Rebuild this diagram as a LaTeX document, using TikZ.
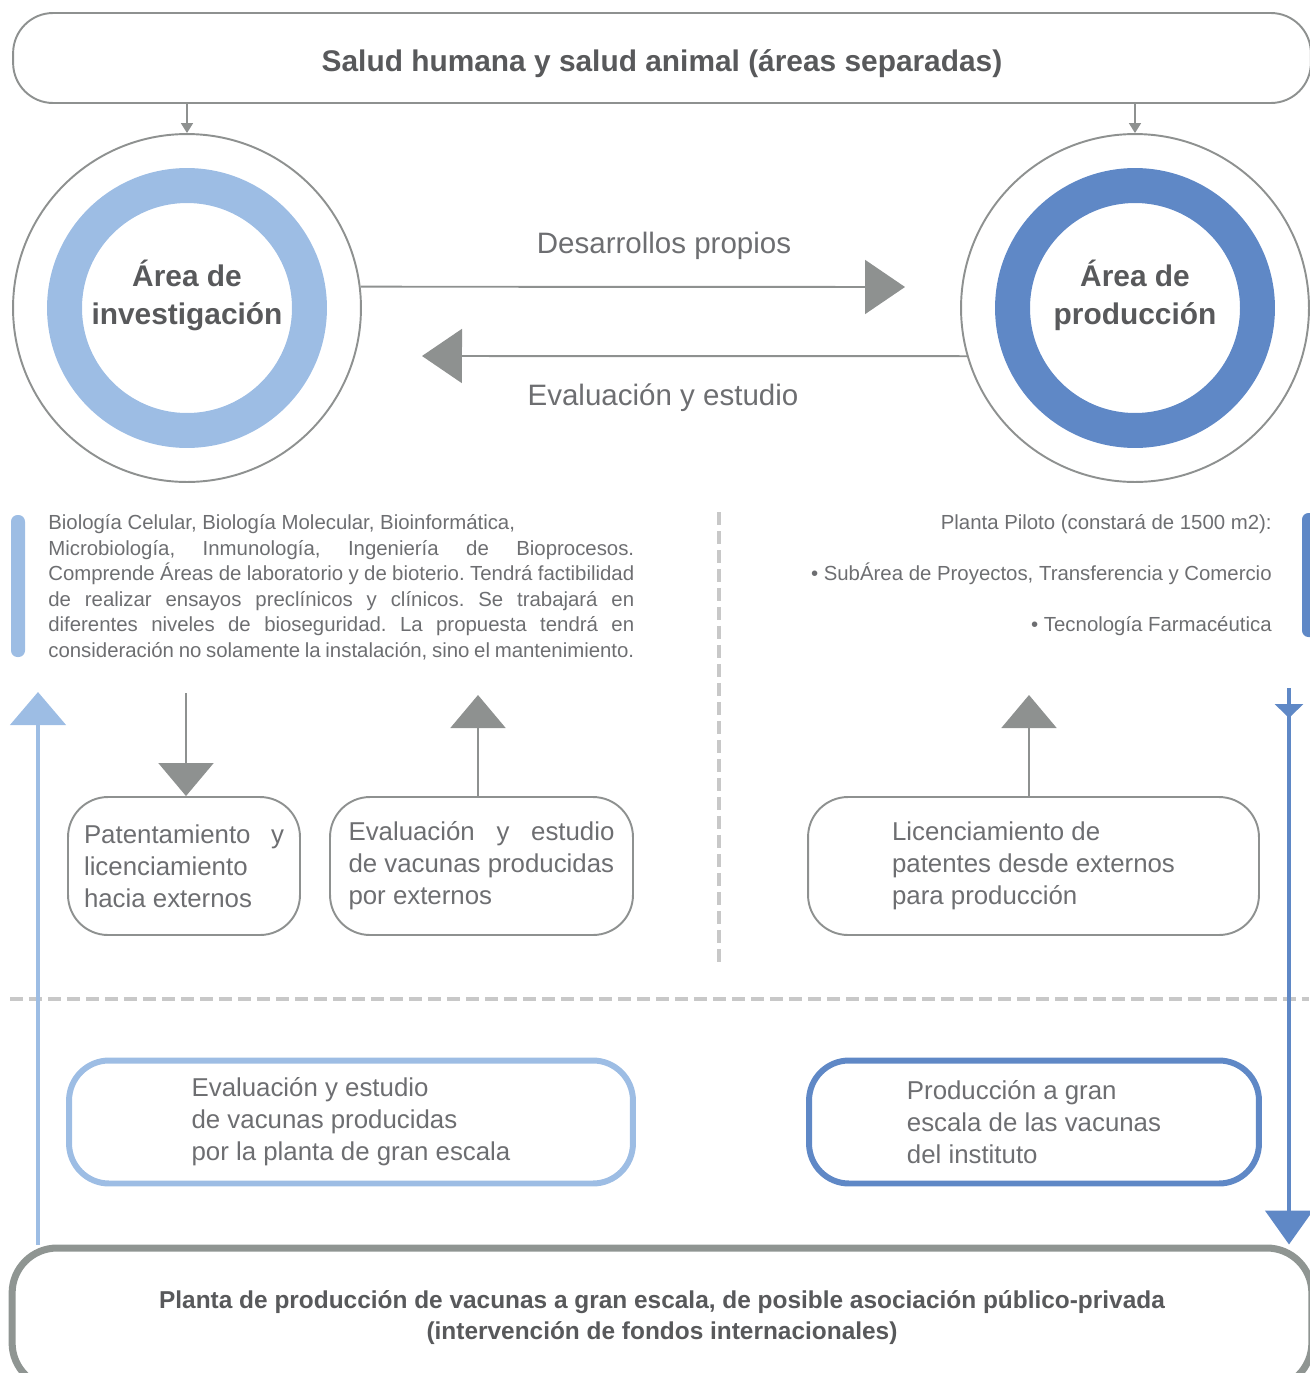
\documentclass[tikz,border=0pt]{standalone}
\usepackage{fontspec}
\setmainfont{Liberation Sans}
\usetikzlibrary{arrows.meta}
\frenchspacing

\definecolor{linegray}{HTML}{8E9190}
\definecolor{textgray}{HTML}{6D6E71}
\definecolor{titlegray}{HTML}{58595B}
\definecolor{lightblue}{HTML}{9DBDE4}
\definecolor{midblue}{HTML}{5F88C6}
\definecolor{dashgray}{HTML}{C8C8C8}
\definecolor{basegray}{HTML}{8F9592}

\begin{document}
\begin{tikzpicture}[x = 0.02cm, y = -0.02cm,
  outer/.style = {circle, draw = linegray, line width = 1.1pt, minimum size = 6.96cm},
  ring/.style = {circle, draw = #1, line width = 19.9pt, minimum size = 4.9cm, align = center,
    text = titlegray, font = \fontsize{17}{21.6}\selectfont\bfseries},
  box/.style = {draw = linegray, line width = 1.1pt, rounded corners = 0.8cm, align = left,
    text = textgray, font = \fontsize{14.7}{18.2}\selectfont, minimum height = 2.76cm},
  bluebox/.style = {box, draw = #1, line width = 3.4pt, minimum height = 2.46cm},
  body/.style = {inner sep = 0pt, text = textgray, font = \fontsize{11.6}{14.6}\selectfont},
  flow/.style = {text = textgray, font = \fontsize{16.8}{20}\selectfont},
  smallarrow/.style = {draw = linegray, line width = 0.9pt, -{Triangle[length = 0.2cm, width = 0.24cm]}},
  bigarrow/.style = {draw = linegray, line width = 1.1pt, -{Triangle[length = 0.8cm, width = 1.08cm]}},
  midarrow/.style = {draw = linegray, line width = 1.1pt, -{Triangle[length = 0.66cm, width = 1.1cm]}},
  dashline/.style = {draw = dashgray, line width = 2.6pt, dash pattern = on 0.26cm off 0.12cm}]
\useasboundingbox (0, 0) rectangle (1309, 1373);

% top and bottom frames
\node[draw = linegray, line width = 1.1pt, rounded corners = 0.8cm, minimum width = 25.96cm,
  minimum height = 1.8cm, text = titlegray, font = \fontsize{17}{20}\selectfont\bfseries]
  (salud) at (662, 58) {\raisebox{-0.12cm}[\height][\depth]{Salud humana y salud animal (áreas separadas)}};
\node[draw = basegray, line width = 4pt, rounded corners = 0.9cm, minimum width = 26cm,
  minimum height = 2.8cm, align = center, text = titlegray,
  font = \fontsize{13.9}{17.6}\selectfont\bfseries] (planta) at (662, 1318)
  {Planta de producción de vacunas a gran escala, de posible asociación público-privada\\
   (intervención de fondos internacionales)};

% the two areas
\node[outer] (invArea) at (187, 308) {};
\node[ring = lightblue] (invRing) at (invArea)
  {\raisebox{0.21cm}[\height][\depth]{\begin{tabular}{@{}c@{}}Área de\\investigación\end{tabular}}};
\node[outer] (prodArea) at (1135, 308) {};
\node[ring = midblue] (prodRing) at (prodArea)
  {\raisebox{0.21cm}[\height][\depth]{\begin{tabular}{@{}c@{}}Área de\\producción\end{tabular}}};

\draw[smallarrow] (salud.south -| invArea) -- (invArea.north);
\draw[smallarrow] (salud.south -| prodArea) -- (prodArea.north);

\coordinate (desTip) at (905, 287);
\coordinate (evaTip) at (422, 356);
\draw[bigarrow] (invArea.7) -- (desTip);
\draw[bigarrow] (prodArea.196) -- (evaTip);
\node[flow] (desLabel) at (664, 246) {Desarrollos propios};
\node[flow] (evaLabel) at (663, 398) {Evaluación y estudio};

% descriptions
\fill[lightblue, rounded corners = 0.13cm] (11, 515) rectangle (25, 657);
\fill[midblue, rounded corners = 0.13cm] (1302, 513) rectangle (1318, 637);
\node[body, anchor = north west, align = left] (invText) at (48, 514)
  {Biología Celular, Biología Molecular, Bioinformática,\\
   \makebox[11.72cm][s]{Microbiología, Inmunología, Ingeniería de Bioprocesos.}\\
   \makebox[11.72cm][s]{Comprende Áreas de laboratorio y de bioterio. Tendrá factibilidad}\\
   \makebox[11.72cm][s]{de realizar ensayos preclínicos y clínicos. Se trabajará en}\\
   \makebox[11.72cm][s]{diferentes niveles de bioseguridad. La propuesta tendrá en}\\
   \makebox[11.72cm][s]{consideración no solamente la instalación, sino el mantenimiento.}};
\node[body, anchor = north east, align = right] (prodText) at (1272, 514)
  {Planta Piloto (constará de 1500 m2):\\[14.4pt]
   • SubÁrea de Proyectos, Transferencia y Comercio\\[14.4pt]
   • Tecnología Farmacéutica};

% separators
\draw[dashline] (719, 512) -- (719, 965);
\draw[dashline] (10, 999) -- (1309, 999);

% exchange with externals
\node[box, minimum width = 4.64cm] (patente) at (184, 866)
  {\makebox[4cm][s]{Patentamiento y}\\licenciamiento\\hacia externos};
\node[box, minimum width = 6.06cm] (evalExt) at (481.5, 866)
  {\makebox[5.32cm][s]{Evaluación y estudio}\\de vacunas producidas\\por externos};
\node[box, minimum width = 9.02cm] (licencia) at (1033.5, 866)
  {Licenciamiento de\\patentes desde externos\\para producción};

\coordinate (patTop) at (186, 693);
\coordinate (evalUp) at (478, 695);
\coordinate (licUp) at (1029, 695);
\draw[midarrow] (patTop) -- (patente.north -| patTop);
\draw[midarrow] (evalExt.north -| evalUp) -- (evalUp);
\draw[midarrow] (licencia.north -| licUp) -- (licUp);

% large scale plant
\node[bluebox = lightblue, minimum width = 11.28cm] (evalPlanta) at (351, 1122)
  {Evaluación y estudio\\de vacunas producidas\\por la planta de gran escala};
\node[bluebox = midblue, minimum width = 9cm] (prodPlanta) at (1034, 1122)
  {Producción a gran\\escala de las vacunas\\del instituto};

\coordinate (invUp) at (38, 692);
\coordinate (prodDown) at (1289, 688);
\draw[lightblue, line width = 2.8pt, -{Triangle[length = 0.66cm, width = 1.1cm]}]
  (planta.north -| invUp) -- (invUp);
\draw[midblue, line width = 2.8pt, -{Triangle[length = 0.68cm, width = 0.94cm]}]
  (prodDown) -- (planta.north -| prodDown);
\draw[midblue, line width = 2.8pt, -{Triangle[length = 0.28cm, width = 0.56cm]}]
  (prodDown) -- ++(0, 30);
\end{tikzpicture}
\end{document}
